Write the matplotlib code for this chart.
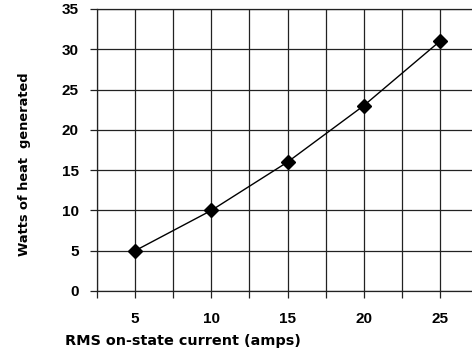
import matplotlib
matplotlib.use('Agg')
import matplotlib.pyplot as plt

# data
current = [5, 10, 15, 20, 25]
watts = [5, 10, 16, 23, 31]
x_grid = [2.5, 5, 7.5, 10, 12.5, 15, 17.5, 20, 22.5, 25, 27.5]
x_labels = ['', '5', '', '10', '', '15', '', '20', '', '25', '']
y_ticks = [0, 5, 10, 15, 20, 25, 30, 35]

fig = plt.figure(figsize=(4.72, 3.54), dpi=100)
ax = fig.add_axes([97/472, 1-291/354, (478-97)/472, (291-9)/354])

ax.plot(current, watts, color='black', lw=1.0, marker='D', markersize=7,
        markerfacecolor='black', markeredgecolor='black')

ax.set_xlim(2.5, 27.5)
ax.set_ylim(0, 35)
ax.set_yticks(y_ticks)
ax.set_xticks(x_grid)
ax.set_xticklabels(x_labels)
ax.grid(True, color='#222222', lw=0.9)
ax.set_axisbelow(True)
for s in ax.spines.values():
    s.set_color('#222222')
    s.set_linewidth(0.9)

ax.tick_params(axis='both', direction='out', length=5, width=0.9, color='#222222')
ax.tick_params(axis='y', pad=8)
ax.tick_params(axis='x', pad=10)
for lab in ax.get_xticklabels() + ax.get_yticklabels():
    lab.set_fontfamily('Liberation Sans')
    lab.set_fontweight('bold')
    lab.set_fontsize(11)

fig.text(24.5/472, 1-164/354, 'Watts of heat  generated', rotation=90,
         ha='center', va='center', fontsize=9.4, fontweight='bold', family='DejaVu Sans')
fig.text(65/472, 1-341/354, 'RMS on-state current (amps)',
         ha='left', va='center', fontsize=10.4, fontweight='bold', family='DejaVu Sans')

fig.savefig('out.png', dpi=100)
